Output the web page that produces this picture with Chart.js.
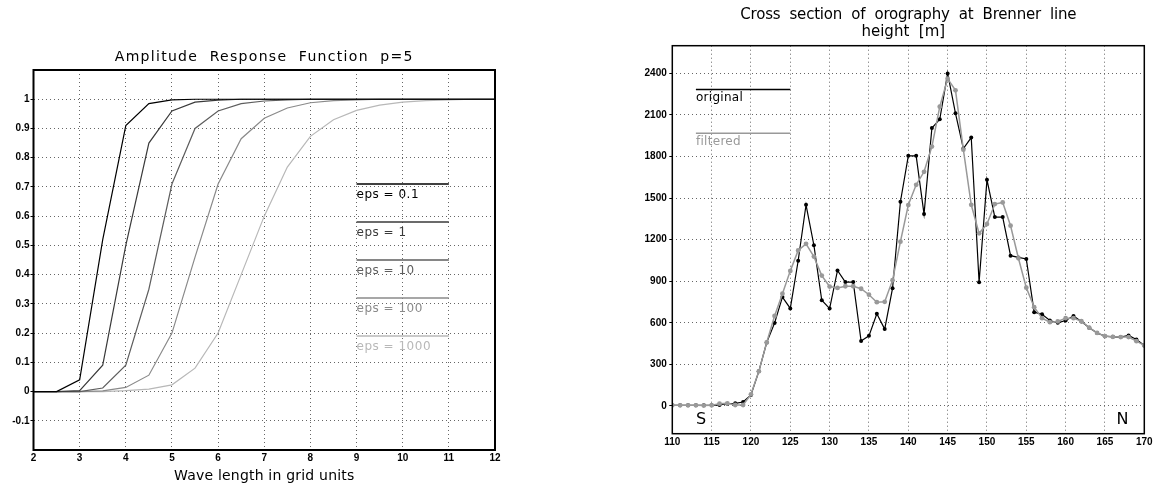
<!DOCTYPE html>
<html>
<head>
<meta charset="utf-8">
<script src="https://cdn.jsdelivr.net/npm/chart.js@4.4.0/dist/chart.umd.min.js"></script>
<style>
  html, body { margin: 0; padding: 0; background: #fff; }
  body { width: 1159px; height: 486px; position: relative; overflow: hidden; }
  canvas { position: absolute; top: 0; }
  #amp { left: 0; }
  #oro { left: 600px; }
</style>
</head>
<body>
<canvas id="amp" width="560" height="486"></canvas>
<canvas id="oro" width="559" height="486"></canvas>
<script>
// ---- left chart: amplitude response, p=5 ----
const waveLength = [2, 2.5, 3, 3.5, 4, 4.5, 5, 5.5, 6, 6.5, 7, 7.5, 8, 8.5, 9, 9.5, 10, 10.5, 11, 11.5, 12];
const epsLabels = ["eps = 0.1", "eps = 1", "eps = 10", "eps = 100", "eps = 1000"];
const respEps01   = [0, 0, 0.04, 0.52, 0.91, 0.985, 0.998, 1, 1, 1, 1, 1, 1, 1, 1, 1, 1, 1, 1, 1, 1];
const respEps1    = [0, 0, 0.003, 0.09, 0.5, 0.85, 0.96, 0.99, 0.997, 1, 1, 1, 1, 1, 1, 1, 1, 1, 1, 1, 1];
const respEps10   = [0, 0, 0, 0.012, 0.09, 0.35, 0.71, 0.9, 0.96, 0.985, 0.994, 0.998, 1, 1, 1, 1, 1, 1, 1, 1, 1];
const respEps100  = [0, 0, 0, 0.002, 0.014, 0.056, 0.2, 0.46, 0.71, 0.865, 0.935, 0.97, 0.988, 0.995, 0.998, 1, 1, 1, 1, 1, 1];
const respEps1000 = [0, 0, 0, 0, 0.003, 0.008, 0.023, 0.08, 0.2, 0.4, 0.6, 0.768, 0.873, 0.93, 0.962, 0.98, 0.99, 0.995, 0.998, 1, 1];
const ampXTicks = [2, 3, 4, 5, 6, 7, 8, 9, 10, 11, 12];
const ampYTicks = [-0.1, 0, 0.1, 0.2, 0.3, 0.4, 0.5, 0.6, 0.7, 0.8, 0.9, 1];

// ---- right chart: Brenner cross section ----
const position = [110, 111, 112, 113, 114, 115, 116, 117, 118, 119,
  120, 121, 122, 123, 124, 125, 126, 127, 128, 129,
  130, 131, 132, 133, 134, 135, 136, 137, 138, 139,
  140, 141, 142, 143, 144, 145, 146, 147, 148, 149,
  150, 151, 152, 153, 154, 155, 156, 157, 158, 159,
  160, 161, 162, 163, 164, 165, 166, 167, 168, 169, 170];
const original = [5, 5, 5, 5, 5, 5, 7, 17, 19, 29,
  80, 250, 458, 598, 786, 704, 1048, 1452, 1160, 763,
  703, 978, 894, 894, 469, 506, 665, 555, 850, 1474,
  1805, 1805, 1385, 2006, 2069, 2400, 2112, 1858, 1937, 893,
  1632, 1363, 1363, 1085, 1072, 1061, 677, 662, 617, 600,
  617, 650, 610, 565, 527, 504, 499, 497, 509, 480, 437];
const filtered = [5, 5, 5, 5, 3, 5, 17, 19, 7, 7,
  84, 250, 458, 650, 810, 975, 1122, 1170, 1078, 941,
  862, 852, 864, 864, 846, 803, 749, 752, 908, 1186,
  1450, 1596, 1690, 1872, 2160, 2362, 2278, 1850, 1452, 1246,
  1313, 1457, 1469, 1301, 1066, 854, 713, 634, 605, 610,
  634, 634, 612, 565, 527, 504, 499, 497, 497, 468, 437];
const oroXTicks = [110, 115, 120, 125, 130, 135, 140, 145, 150, 155, 160, 165, 170];
const oroYTicks = [0, 300, 600, 900, 1200, 1500, 1800, 2100, 2400];

const epsColors = ["#000000", "#3a3a3a", "#5e5e5e", "#8a8a8a", "#b8b8b8"];
const textFont = "'DejaVu Sans', sans-serif";
const tickFont = { family: "'Liberation Sans', Arial, sans-serif", size: 10, weight: "bold" };

function drawText(ctx, str, x, y, size, color, align, spacing) {
  ctx.font = size + "px " + textFont;
  ctx.fillStyle = color;
  ctx.textAlign = align;
  ctx.textBaseline = "middle";
  if ("letterSpacing" in ctx) ctx.letterSpacing = (spacing || 0) + "px";
  ctx.fillText(str, x, y);
  if ("letterSpacing" in ctx) ctx.letterSpacing = "0px";
}

const dotted = { color: "#666", lineWidth: 1 };

// frame, titles and the hand-made legend of the left chart
const ampDecor = {
  id: "ampDecor",
  afterDraw(chart) {
    const { ctx, chartArea: a, scales: { x, y } } = chart;
    ctx.save();
    ctx.strokeStyle = "#000";
    ctx.lineWidth = 2;
    ctx.strokeRect(a.left, a.top, a.right - a.left, a.bottom - a.top);
    const cx = (a.left + a.right) / 2;
    drawText(ctx, "Amplitude  Response  Function  p=5", cx, 57, 14, "#000", "center", 1.3);
    drawText(ctx, "Wave length in grid units", cx, 476, 14, "#000", "center", 0.2);
    const rows = [0.71, 0.58, 0.45, 0.32, 0.19];
    epsLabels.forEach((lab, i) => {
      const ly = y.getPixelForValue(rows[i]);
      ctx.strokeStyle = epsColors[i];
      ctx.lineWidth = 1.5;
      ctx.beginPath();
      ctx.moveTo(x.getPixelForValue(9), ly);
      ctx.lineTo(x.getPixelForValue(11), ly);
      ctx.stroke();
      drawText(ctx, lab, x.getPixelForValue(9), ly + 10.5, 12, epsColors[i], "left", 0.5);
    });
    ctx.restore();
  }
};

new Chart(document.getElementById("amp"), {
  type: "line",
  data: {
    datasets: [respEps01, respEps1, respEps10, respEps100, respEps1000].map((s, i) => ({
      label: epsLabels[i],
      data: waveLength.map((w, k) => ({ x: w, y: s[k] })),
      borderColor: epsColors[i],
      borderWidth: 1.2,
      pointRadius: 0,
      fill: false,
      tension: 0
    }))
  },
  options: {
    responsive: false,
    animation: false,
    layout: { padding: { left: 0, right: 65, top: 70, bottom: 22 } },
    plugins: { legend: { display: false }, tooltip: { enabled: false }, title: { display: false } },
    scales: {
      x: {
        type: "linear", min: 2, max: 12,
        afterBuildTicks: (s) => { s.ticks = ampXTicks.map((v) => ({ value: v })); },
        afterFit: (s) => { s.height = 14; },
        grid: { ...dotted, drawTicks: false },
        border: { display: false, dash: [1, 3] },
        ticks: { font: tickFont, color: "#000", padding: 2, maxRotation: 0, autoSkip: false,
          callback: (v) => String(v) }
      },
      y: {
        type: "linear", min: -0.2, max: 1.1,
        afterBuildTicks: (s) => { s.ticks = ampYTicks.map((v) => ({ value: v })); },
        afterFit: (s) => { s.width = 33.5; },
        grid: { ...dotted, drawTicks: true, tickLength: 3, tickColor: "#000" },
        border: { display: false, dash: [1, 3] },
        ticks: { font: tickFont, color: "#000", padding: 1, autoSkip: false,
          callback: (v) => String(Math.round(v * 10) / 10) }
      }
    }
  },
  plugins: [ampDecor]
});

// frame, titles, legend and S / N marks of the right chart
const oroDecor = {
  id: "oroDecor",
  afterDraw(chart) {
    const { ctx, chartArea: a, scales: { x, y } } = chart;
    ctx.save();
    ctx.strokeStyle = "#000";
    ctx.lineWidth = 1.5;
    ctx.strokeRect(a.left, a.top, a.right - a.left, a.bottom - a.top);
    const cx = (a.left + a.right) / 2;
    drawText(ctx, "Cross  section  of  orography  at  Brenner  line", cx, 15, 15, "#000", "center", -0.2);
    drawText(ctx, "height  [m]", cx - 5, 32, 15, "#000", "center", 0);
    const items = [["original", "#000", 2284], ["filtered", "#999", 1968]];
    items.forEach(([lab, col, v]) => {
      const ly = y.getPixelForValue(v);
      ctx.strokeStyle = col;
      ctx.lineWidth = 1.5;
      ctx.beginPath();
      ctx.moveTo(x.getPixelForValue(113), ly);
      ctx.lineTo(x.getPixelForValue(125), ly);
      ctx.stroke();
      drawText(ctx, lab, x.getPixelForValue(113), ly + 8.5, 12, col, "left", 0.3);
    });
    drawText(ctx, "S", x.getPixelForValue(113), y.getPixelForValue(-100), 16, "#000", "left", 0);
    drawText(ctx, "N", x.getPixelForValue(168), y.getPixelForValue(-100), 16, "#000", "right", 0);
    ctx.restore();
  }
};

new Chart(document.getElementById("oro"), {
  type: "line",
  data: {
    datasets: [
      {
        label: "original",
        data: position.map((p, k) => ({ x: p, y: original[k] })),
        borderColor: "#000", backgroundColor: "#000",
        borderWidth: 1.2, pointRadius: 2, pointBorderWidth: 0,
        tension: 0, order: 1
      },
      {
        label: "filtered",
        data: position.map((p, k) => ({ x: p, y: filtered[k] })),
        borderColor: "#999", backgroundColor: "#999",
        borderWidth: 1.5, pointRadius: 2.4, pointBorderWidth: 0,
        tension: 0, order: 0
      }
    ]
  },
  options: {
    responsive: false,
    animation: false,
    layout: { padding: { left: 0, right: 14.7, top: 45.7, bottom: 36 } },
    plugins: { legend: { display: false }, tooltip: { enabled: false }, title: { display: false } },
    scales: {
      x: {
        type: "linear", min: 110, max: 170,
        afterBuildTicks: (s) => { s.ticks = oroXTicks.map((v) => ({ value: v })); },
        afterFit: (s) => { s.height = 16.3; },
        grid: { ...dotted, drawTicks: false },
        border: { display: false, dash: [1, 3] },
        ticks: { font: tickFont, color: "#000", padding: 3, maxRotation: 0, autoSkip: false,
          callback: (v) => String(v) }
      },
      y: {
        type: "linear", min: -200, max: 2600,
        afterBuildTicks: (s) => { s.ticks = oroYTicks.map((v) => ({ value: v })); },
        afterFit: (s) => { s.width = 72.3; },
        grid: { ...dotted, drawTicks: true, tickLength: 3, tickColor: "#000" },
        border: { display: false, dash: [1, 3] },
        ticks: { font: tickFont, color: "#000", padding: 2.5, autoSkip: false,
          callback: (v) => String(v) }
      }
    }
  },
  plugins: [oroDecor]
});
</script>
</body>
</html>
